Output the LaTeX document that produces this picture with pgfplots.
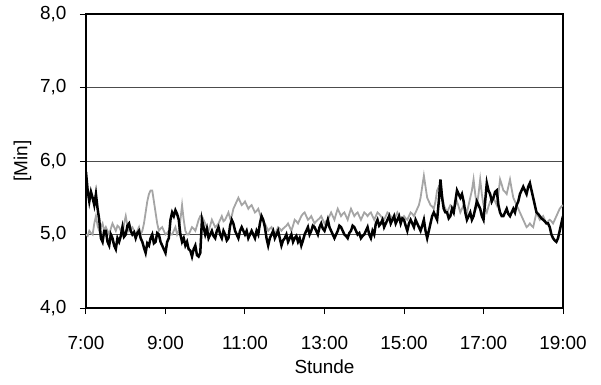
\documentclass[border=0pt]{standalone}
\usepackage{pgfplots}
\pgfplotsset{compat=1.18}
\usepackage{fontspec}
\setmainfont{Liberation Sans}
\definecolor{lgray}{RGB}{165,165,165}
\begin{document}
\fontsize{19}{22}\selectfont
\begin{tikzpicture}
\begin{axis}[
  scale only axis,
  width=477bp, height=294bp,
  xmin=0, xmax=720, ymin=4, ymax=8,
  xtick={0,120,240,360,480,600,720},
  xticklabels={7:00,9:00,11:00,13:00,15:00,17:00,19:00},
  ytick={4,5,6,7,8},
  yticklabels={{4,0},{5,0},{6,0},{7,0},{8,0}},
  tick align=outside,
  major tick length=6bp,
  xtick pos=bottom, ytick pos=left,
  ymajorgrids,
  grid style={black!70, line width=0.8bp},
  axis line style={black, line width=1.2bp},
  tick style={black, line width=1bp},
  tick label style={font=\fontsize{19}{22}\selectfont},
  label style={font=\fontsize{19}{22}\selectfont},
  xticklabel style={yshift=-16bp},
  yticklabel style={xshift=-7bp},
  xlabel={Stunde},
  ylabel={[Min]},
  xlabel style={yshift=3bp},
  ylabel style={yshift=-4bp},
  /pgf/number format/assume math mode=true,
]
\addplot[lgray, line width=1.8bp] coordinates {
(0,5.0)(2.5,4.98)(5,5.05)(7.5,5.02)(10,5.0)(12.5,5.15)(15,5.25)(17.5,5.12)(20,5.05)(22.5,5.1)(25,5.15)(27.5,5.05)(30,5.1)(32.5,5.05)(35,5.0)(37.5,5.08)(40,5.15)(42.5,5.1)(45,5.05)(47.5,5.12)(50,5.1)(52.5,5.05)(55,5.0)(57.5,5.15)(60,5.25)(62.5,5.12)(65,5.05)(67.5,5.08)(70,5.1)(72.5,5.05)(75,5.0)(77.5,5.05)(80,5.1)(82.5,5.0)(85,5.05)(87.5,5.15)(90,5.3)(92.5,5.45)(95,5.55)(97.5,5.6)(100,5.6)(102.5,5.45)(105,5.3)(107.5,5.15)(110,5.05)(112.5,5.08)(115,5.1)(117.5,5.05)(120,5.0)(122.5,5.02)(125,5.05)(127.5,5.0)(130,5.0)(132.5,5.05)(135,5.1)(137.5,5.0)(140,5.05)(142.5,5.2)(145,5.4)(147.5,5.2)(150,5.05)(152.5,5.0)(155,5.0)(157.5,5.05)(160,5.1)(162.5,5.08)(165,5.05)(167.5,5.12)(170,5.2)(172.5,5.25)(175,5.25)(177.5,5.2)(180,5.15)(182.5,5.1)(185,5.05)(187.5,5.12)(190,5.2)(192.5,5.15)(195,5.1)(197.5,5.12)(200,5.15)(202.5,5.2)(205,5.25)(207.5,5.18)(210,5.2)(212.5,5.25)(215,5.3)(217.5,5.22)(220,5.25)(222.5,5.35)(225,5.4)(227.5,5.45)(230,5.5)(232.5,5.45)(235,5.4)(237.5,5.42)(240,5.45)(242.5,5.4)(245,5.35)(247.5,5.38)(250,5.4)(252.5,5.35)(255,5.3)(257.5,5.32)(260,5.35)(262.5,5.28)(265,5.2)(267.5,5.18)(270,5.15)(272.5,5.1)(275,5.05)(277.5,5.08)(280,5.1)(282.5,5.05)(285,5.0)(287.5,5.05)(290,5.1)(292.5,5.08)(295,5.05)(297.5,5.08)(300,5.1)(302.5,5.12)(305,5.15)(307.5,5.1)(310,5.05)(312.5,5.12)(315,5.2)(317.5,5.18)(320,5.15)(322.5,5.2)(325,5.25)(327.5,5.28)(330,5.3)(332.5,5.25)(335,5.2)(337.5,5.22)(340,5.25)(342.5,5.2)(345,5.15)(347.5,5.18)(350,5.2)(352.5,5.22)(355,5.25)(357.5,5.2)(360,5.15)(362.5,5.18)(365,5.2)(367.5,5.25)(370,5.3)(372.5,5.25)(375,5.2)(377.5,5.28)(380,5.35)(382.5,5.3)(385,5.25)(387.5,5.28)(390,5.3)(392.5,5.25)(395,5.2)(397.5,5.28)(400,5.35)(402.5,5.3)(405,5.25)(407.5,5.28)(410,5.3)(412.5,5.25)(415,5.2)(417.5,5.25)(420,5.3)(422.5,5.28)(425,5.25)(427.5,5.28)(430,5.3)(432.5,5.25)(435,5.2)(437.5,5.25)(440,5.3)(442.5,5.28)(445,5.25)(447.5,5.22)(450,5.2)(452.5,5.25)(455,5.3)(457.5,5.28)(460,5.25)(462.5,5.22)(465,5.2)(467.5,5.25)(470,5.3)(472.5,5.25)(475,5.2)(477.5,5.22)(480,5.25)(482.5,5.22)(485,5.2)(487.5,5.25)(490,5.3)(492.5,5.28)(495,5.25)(497.5,5.3)(500,5.35)(502.5,5.4)(505,5.5)(507.5,5.65)(510,5.8)(512.5,5.65)(515,5.5)(517.5,5.45)(520,5.4)(522.5,5.38)(525,5.35)(527.5,5.45)(530,5.6)(532.5,5.65)(535,5.7)(537.5,5.55)(540,5.4)(542.5,5.35)(545,5.3)(547.5,5.35)(550,5.4)(552.5,5.38)(555,5.35)(557.5,5.4)(560,5.45)(562.5,5.38)(565,5.3)(567.5,5.35)(570,5.4)(572.5,5.35)(575,5.3)(577.5,5.4)(580,5.5)(582.5,5.6)(585,5.75)(587.5,5.55)(590,5.4)(592.5,5.55)(595,5.75)(597.5,5.55)(600,5.4)(602.5,5.35)(605,5.3)(607.5,5.38)(610,5.45)(612.5,5.48)(615,5.5)(617.5,5.45)(620,5.4)(622.5,5.55)(625,5.75)(627.5,5.68)(630,5.6)(632.5,5.58)(635,5.55)(637.5,5.65)(640,5.75)(642.5,5.62)(645,5.5)(647.5,5.45)(650,5.4)(652.5,5.35)(655,5.3)(657.5,5.25)(660,5.2)(662.5,5.15)(665,5.1)(667.5,5.12)(670,5.15)(672.5,5.12)(675,5.1)(677.5,5.2)(680,5.3)(682.5,5.25)(685,5.2)(687.5,5.22)(690,5.25)(692.5,5.2)(695,5.15)(697.5,5.18)(700,5.2)(702.5,5.18)(705,5.15)(707.5,5.2)(710,5.25)(712.5,5.3)(715,5.35)(717.5,5.38)(720,5.4)
};
\addplot[black, line width=2.5bp] coordinates {
(0,5.85)(2.5,5.6)(5,5.45)(7.5,5.58)(10,5.5)(12.5,5.4)(15,5.55)(17.5,5.35)(20,5.2)(22.5,4.95)(25,4.9)(27.5,5.05)(30,5.05)(32.5,4.9)(35,4.85)(37.5,5.0)(40,4.95)(42.5,4.85)(45,4.8)(47.5,4.95)(50,4.9)(52.5,4.98)(55,5.1)(57.5,4.97)(60,5.0)(62.5,5.12)(65,5.15)(67.5,5.05)(70,5.0)(72.5,5.03)(75,4.95)(77.5,5.02)(80,5.05)(82.5,4.95)(85,4.9)(87.5,4.82)(90,4.75)(92.5,4.88)(95,4.85)(97.5,4.95)(100,5.0)(102.5,4.88)(105,4.9)(107.5,5.02)(110,5.0)(112.5,4.9)(115,4.85)(117.5,4.8)(120,4.75)(122.5,4.9)(125,4.95)(127.5,5.2)(130,5.3)(132.5,5.25)(135,5.33)(137.5,5.28)(140,5.2)(142.5,5.0)(145,4.9)(147.5,4.95)(150,4.85)(152.5,4.9)(155,4.8)(157.5,4.78)(160,4.7)(162.5,4.8)(165,4.85)(167.5,4.72)(170,4.7)(172.5,4.75)(175,5.2)(177.5,5.1)(180,5.0)(182.5,5.08)(185,4.95)(187.5,5.0)(190,5.05)(192.5,4.98)(195,4.95)(197.5,5.05)(200,5.1)(202.5,5.0)(205,4.95)(207.5,5.05)(210,5.0)(212.5,4.92)(215,4.95)(217.5,5.12)(220,5.2)(222.5,5.15)(225,5.05)(227.5,5.0)(230,4.95)(232.5,5.05)(235,5.1)(237.5,5.05)(240,5.0)(242.5,5.05)(245,4.95)(247.5,5.0)(250,5.05)(252.5,5.0)(255,4.95)(257.5,5.05)(260,5.0)(262.5,5.15)(265,5.25)(267.5,5.2)(270,5.1)(272.5,4.95)(275,4.85)(277.5,4.95)(280,5.0)(282.5,5.05)(285,4.95)(287.5,5.0)(290,5.05)(292.5,4.95)(295,4.85)(297.5,4.92)(300,4.95)(302.5,5.0)(305,4.9)(307.5,4.95)(310,5.0)(312.5,4.9)(315,4.95)(317.5,4.98)(320,4.9)(322.5,4.95)(325,4.85)(327.5,4.92)(330,5.0)(332.5,5.05)(335,5.1)(337.5,5.0)(340,5.05)(342.5,5.12)(345,5.1)(347.5,5.05)(350,5.0)(352.5,5.1)(355,5.15)(357.5,5.08)(360,5.05)(362.5,5.12)(365,5.2)(367.5,5.1)(370,5.05)(372.5,5.0)(375,4.95)(377.5,5.0)(380,5.05)(382.5,5.12)(385,5.1)(387.5,5.05)(390,5.0)(392.5,4.98)(395,4.95)(397.5,5.02)(400,5.05)(402.5,5.12)(405,5.1)(407.5,5.05)(410,5.0)(412.5,5.02)(415,4.95)(417.5,4.98)(420,5.0)(422.5,5.05)(425,5.1)(427.5,5.0)(430,4.95)(432.5,5.05)(435,5.0)(437.5,5.15)(440,5.2)(442.5,5.12)(445,5.15)(447.5,5.2)(450,5.1)(452.5,5.15)(455,5.2)(457.5,5.25)(460,5.15)(462.5,5.2)(465,5.25)(467.5,5.15)(470,5.2)(472.5,5.25)(475,5.15)(477.5,5.22)(480,5.2)(482.5,5.12)(485,5.05)(487.5,5.15)(490,5.2)(492.5,5.15)(495,5.1)(497.5,5.2)(500,5.15)(502.5,5.1)(505,5.05)(507.5,5.12)(510,5.2)(512.5,5.05)(515,4.95)(517.5,5.05)(520,5.15)(522.5,5.25)(525,5.3)(527.5,5.25)(530,5.2)(532.5,5.45)(535,5.75)(537.5,5.5)(540,5.35)(542.5,5.3)(545,5.3)(547.5,5.22)(550,5.25)(552.5,5.35)(555,5.3)(557.5,5.45)(560,5.6)(562.5,5.55)(565,5.5)(567.5,5.55)(570,5.45)(572.5,5.3)(575,5.2)(577.5,5.25)(580,5.3)(582.5,5.2)(585,5.25)(587.5,5.35)(590,5.45)(592.5,5.4)(595,5.35)(597.5,5.25)(600,5.2)(602.5,5.45)(605,5.7)(607.5,5.6)(610,5.55)(612.5,5.45)(615,5.5)(617.5,5.58)(620,5.6)(622.5,5.4)(625,5.3)(627.5,5.25)(630,5.25)(632.5,5.3)(635,5.35)(637.5,5.28)(640,5.25)(642.5,5.3)(645,5.35)(647.5,5.3)(650,5.4)(652.5,5.45)(655,5.55)(657.5,5.6)(660,5.65)(662.5,5.6)(665,5.55)(667.5,5.65)(670,5.7)(672.5,5.6)(675,5.5)(677.5,5.4)(680,5.3)(682.5,5.28)(685,5.25)(687.5,5.22)(690,5.2)(692.5,5.18)(695,5.15)(697.5,5.15)(700,5.1)(702.5,5.0)(705,4.95)(707.5,4.92)(710,4.9)(712.5,4.95)(715,5.05)(717.5,5.15)(720,5.25)
};
\end{axis}
\pgfresetboundingbox
\path ([shift={(-86bp,-77bp)}]current axis.south west) rectangle ([shift={(38bp,14bp)}]current axis.north east);
\end{tikzpicture}
\end{document}
